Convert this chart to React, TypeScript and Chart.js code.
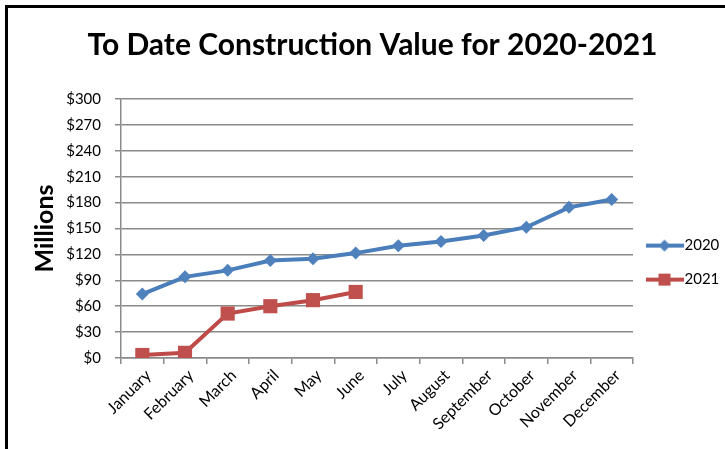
import React, { useEffect, useRef } from "react";
import { Chart, registerables } from "chart.js";

Chart.register(...registerables);

const TITLE = "To Date Construction Value for 2020-2021";
const Y_TITLE = "Millions";
const MONTHS = ["January", "February", "March", "April", "May", "June", "July", "August", "September", "October", "November", "December"];
const SERIES_NAMES = ["2020", "2021"];
const VALUES_2020 = [74, 94, 101.5, 113, 115, 121.5, 130, 135, 142, 151.5, 174.5, 183.5];
const VALUES_2021 = [3.5, 6, 51.5, 60, 67, 76.5];
const Y_MIN = 0;
const Y_MAX = 300;
const Y_STEP = 30;

const BLUE_LINE = "#4A7EBB";
const BLUE_FILL = "#4F81BD";
const RED_LINE = "#BE4B48";
const RED_FILL = "#C0504D";
const GRID = "#8a8a8a";
const FONT = "Lato, 'Open Sans', sans-serif";

function legendSwatch(color: string, fill: string, kind: "diamond" | "square") {
  const c = document.createElement("canvas");
  c.width = 38;
  c.height = 16;
  const ctx = c.getContext("2d")!;
  ctx.strokeStyle = color;
  ctx.lineWidth = 4;
  ctx.beginPath();
  ctx.moveTo(0, 8);
  ctx.lineTo(38, 8);
  ctx.stroke();
  ctx.fillStyle = fill;
  ctx.beginPath();
  if (kind === "diamond") {
    ctx.moveTo(19, 2);
    ctx.lineTo(25, 8);
    ctx.lineTo(19, 14);
    ctx.lineTo(13, 8);
    ctx.closePath();
  } else {
    ctx.rect(13, 2, 12, 12);
  }
  ctx.fill();
  return c;
}

export default function App() {
  const ref = useRef<HTMLCanvasElement>(null);

  useEffect(() => {
    if (!ref.current) return;
    const swatches = [
      legendSwatch(BLUE_LINE, BLUE_FILL, "diamond"),
      legendSwatch(RED_LINE, RED_FILL, "square"),
    ];
    const chart = new Chart(ref.current, {
      type: "line",
      data: {
        labels: MONTHS,
        datasets: [
          {
            label: SERIES_NAMES[0],
            data: VALUES_2020,
            borderColor: BLUE_LINE,
            backgroundColor: BLUE_FILL,
            borderWidth: 4,
            pointStyle: "rectRot",
            pointRadius: 6.5,
            pointBorderWidth: 0,
            pointBackgroundColor: BLUE_FILL,
            tension: 0,
          },
          {
            label: SERIES_NAMES[1],
            data: VALUES_2021,
            borderColor: RED_LINE,
            backgroundColor: RED_FILL,
            borderWidth: 4,
            pointStyle: "rect",
            pointRadius: 10,
            pointBorderWidth: 0,
            pointBackgroundColor: RED_FILL,
            tension: 0,
          },
        ],
      },
      options: {
        responsive: false,
        animation: false,
        layout: { padding: { top: 0, left: 20, right: 0, bottom: 0 } },
        plugins: {
          title: {
            display: true,
            text: TITLE,
            color: "#000",
            font: { family: FONT, size: 30, weight: "bold" },
            padding: { top: 27, bottom: 36 },
          },
          legend: {
            display: true,
            position: "right",
            align: "center",
            maxWidth: 92,
            title: {
              display: true,
              text: "",
              font: { size: 1 },
              padding: { top: 75, bottom: 0 },
            },
            labels: {
              usePointStyle: true,
              pointStyleWidth: 25,
              padding: 19,
              color: "#000",
              font: { family: FONT, size: 15 },
              generateLabels: (ch: any) =>
                ch.data.datasets.map((ds: any, i: number) => ({
                  text: ds.label,
                  pointStyle: swatches[i],
                  fillStyle: ds.backgroundColor,
                  strokeStyle: ds.borderColor,
                  lineWidth: 0,
                  hidden: false,
                  datasetIndex: i,
                  fontColor: "#000",
                })),
            },
          },
          tooltip: { enabled: false },
        },
        scales: {
          x: {
            type: "category",
            offset: true,
            grid: {
              offset: true,
              drawOnChartArea: false,
              drawTicks: true,
              tickLength: 6,
              color: GRID,
              lineWidth: 1.5,
            },
            border: { color: GRID, width: 1.5 },
            ticks: {
              minRotation: 45,
              maxRotation: 45,
              autoSkip: false,
              padding: 2,
              labelOffset: 6,
              color: "#000",
              font: { family: FONT, size: 16 },
            },
            afterFit: (s: any) => {
              s.height = 91;
            },
          },
          y: {
            min: Y_MIN,
            max: Y_MAX,
            grid: {
              color: GRID,
              lineWidth: 1.5,
              drawTicks: true,
              tickLength: 6,
            },
            border: { color: GRID, width: 1.5 },
            ticks: {
              stepSize: Y_STEP,
              padding: 14,
              color: "#000",
              font: { family: FONT, size: 15 },
              callback: (v: any) => "$" + v,
            },
            title: {
              display: true,
              text: Y_TITLE,
              color: "#000",
              font: { family: FONT, size: 25, weight: "bold" },
              padding: { top: 10, bottom: 0 },
            },
            afterFit: (s: any) => {
              s.width = 101;
            },
          },
        },
      },
    } as any);
    return () => chart.destroy();
  }, []);

  return (
    <div style={{ position: "fixed", left: 0, top: 0, width: 725, height: 449, background: "#fff", overflow: "hidden" }}>
      <div
        style={{
          position: "absolute",
          left: 5,
          top: 5,
          width: 800,
          height: 600,
          borderLeft: "3px solid #000",
          borderTop: "3px solid #000",
          boxSizing: "border-box",
        }}
      />
      <canvas ref={ref} width={725} height={449} style={{ position: "absolute", left: 0, top: 0, width: 725, height: 449 }} />
    </div>
  );
}
